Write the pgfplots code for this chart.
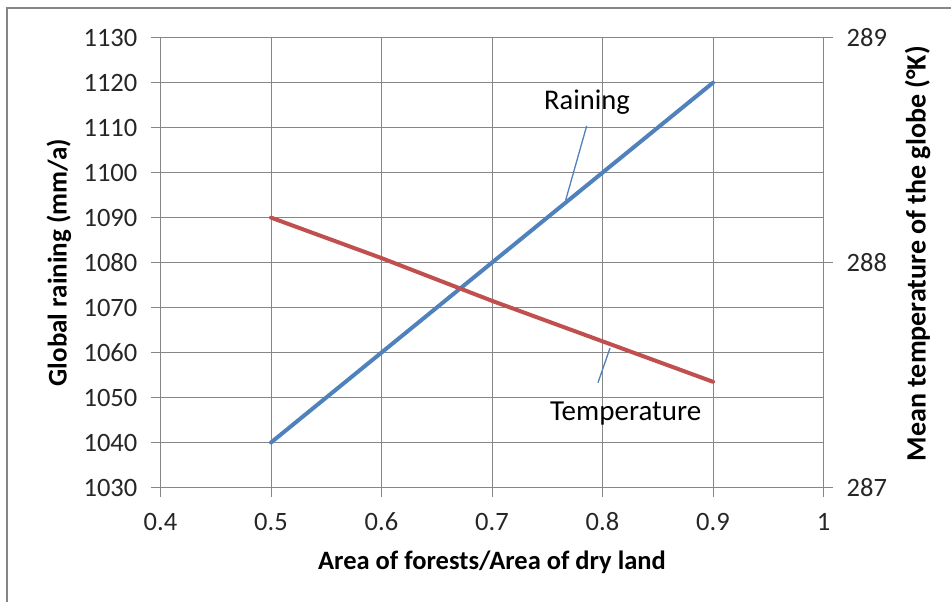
\documentclass[border=0pt]{standalone}
\usepackage{fontspec}
\setmainfont{Carlito}
\usepackage{pgfplots}
\usepackage{pgfplotstable}
\pgfplotsset{compat=1.18}

\definecolor{rainblue}{RGB}{79,129,189}
\definecolor{tempred}{RGB}{192,80,77}
\definecolor{gridgray}{RGB}{134,134,134}

% global raining (mm/a), left axis
\pgfplotstableread{
x     rain
0.5   1040
0.6   1060
0.7   1080
0.8   1100
0.9   1120
}\raining

% mean temperature of the globe (K), right axis
\pgfplotstableread{
x     temp
0.5   288.20
0.6   288.02
0.7   287.83
0.8   287.65
0.9   287.47
}\temperature

\pgfplotsset{
  common/.style={
    at={(0,0)}, anchor=south west,
    scale only axis, width=663pt, height=449.8pt,
    xmin=0.4, xmax=1,
    tick align=outside,
    major tick length=9pt,
    every tick/.style={gridgray, line width=0.9pt},
    axis line style={gridgray, line width=0.9pt},
    ticklabel style={font=\fontsize{26.5}{26.5}\selectfont, text=black!85},
    /pgf/number format/assume math mode=true,
    /pgf/number format/set thousands separator={},
    scaled ticks=false,
  },
}

\begin{document}
\begin{tikzpicture}
\useasboundingbox (-160.5pt,-114.5pt) rectangle (790.5pt,487.5pt);
\draw[gridgray, line width=1.3pt] (-153.5pt,-114.5pt) -- (-153.5pt,479.5pt) -- (790.5pt,479.5pt);

\begin{axis}[
  common,
  ymin=1030, ymax=1130,
  xtick={0.4,0.5,0.6,0.7,0.8,0.9,1},
  ytick={1030,1040,1050,1060,1070,1080,1090,1100,1110,1120,1130},
  tick pos=left,
  grid=major,
  grid style={gridgray, line width=0.9pt},
  yticklabel style={anchor=east, inner sep=0pt, xshift=-14pt},
  xticklabel style={anchor=base, inner sep=0pt, yshift=-33.5pt},
  xlabel={\textbf{Area of forests/Area of dry land}},
  xlabel style={at={(axis description cs:0.5,-0.1823)}, anchor=base,
    font=\fontsize{26.5}{26.5}\selectfont},
  ylabel={\textbf{Global raining (mm/a)}},
  ylabel style={at={(axis description cs:-0.1531,0.5)}, anchor=center,
    font=\fontsize{27}{27}\selectfont},
]
\addplot[rainblue, line width=4pt, line cap=round] table[x=x, y=rain] {\raining};

\node[font=\fontsize{28.5}{28.5}\selectfont] at (axis cs:0.786,1115.7) {Raining};
\draw[rainblue, line width=1.3pt] (axis cs:0.7857,1110.4) -- (axis cs:0.7667,1093.9);
\node[font=\fontsize{29}{29}\selectfont] at (axis cs:0.821,1046.5) {Temperature};
\draw[rainblue, line width=1.3pt] (axis cs:0.8068,1061.0) -- (axis cs:0.7959,1053.3);
\end{axis}

\begin{axis}[
  common,
  ymin=287, ymax=289,
  ytick={287,288,289},
  hide x axis,
  axis y line*=right,
  yticklabel style={anchor=west, inner sep=0pt, xshift=14pt},
  ylabel={\textbf{Mean temperature of the globe (°K)}},
  ylabel style={at={(axis description cs:1.1418,0.52)}, anchor=center,
    font=\fontsize{28}{28}\selectfont},
]
\addplot[tempred, line width=4pt, line cap=round] table[x=x, y=temp] {\temperature};
\end{axis}
\end{tikzpicture}
\end{document}
